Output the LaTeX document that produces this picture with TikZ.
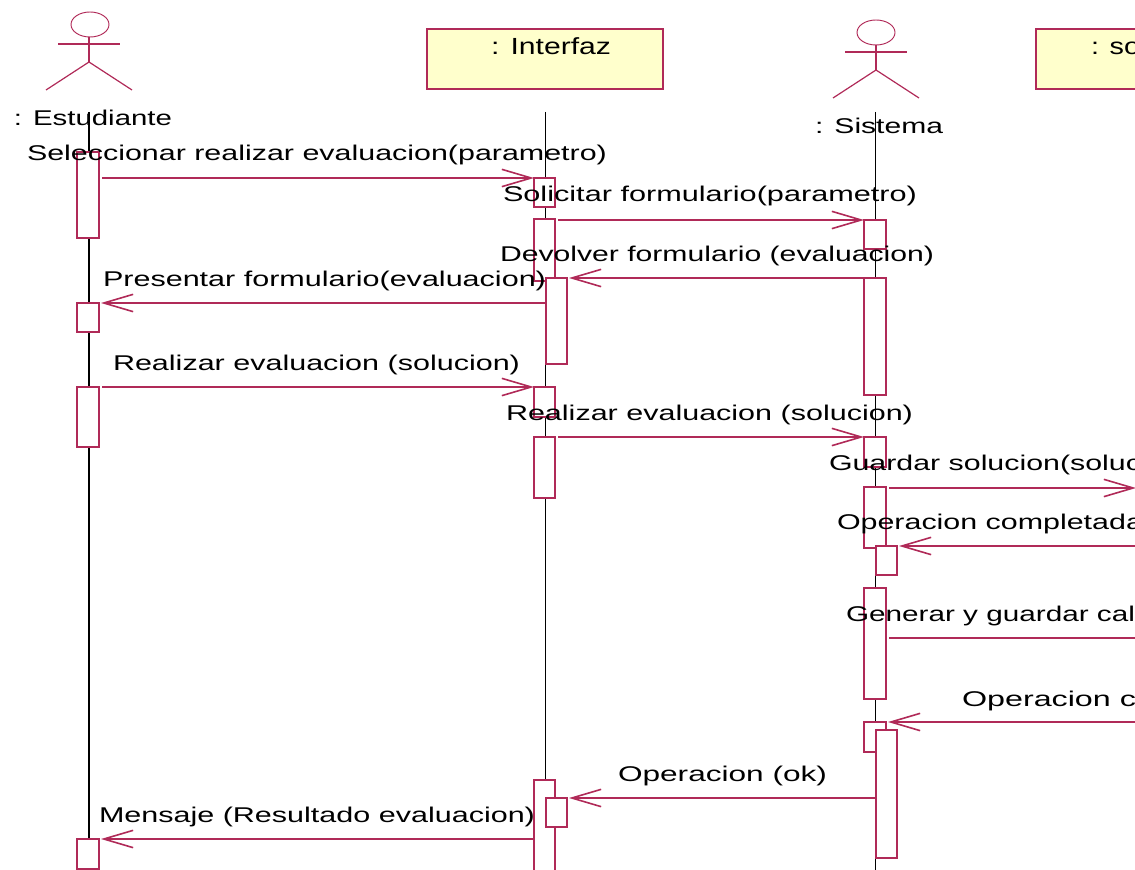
\documentclass[tikz,border=0pt]{standalone}
\usepackage{fontspec}
\setmainfont{Liberation Sans}
\usetikzlibrary{arrows.meta,shapes.geometric}
\definecolor{rose}{HTML}{B02A58}
\definecolor{note}{HTML}{FFFFCC}
\tikzset{
  x=0.75pt,y=-0.75pt,
  lifeline/.style={draw=black,line width=1pt},
  limb/.style={draw=rose,line width=0.9pt},
  head/.style={ellipse,draw=rose,line width=0.7pt,inner sep=0pt,outer sep=0pt},
  actbar/.style={rectangle,draw=rose,fill=white,line width=0.9pt,inner sep=0pt,outer sep=0pt,anchor=north west},
  objbox/.style={rectangle,draw=rose,fill=note,line width=0.9pt,inner sep=0pt,outer sep=0pt,anchor=north west},
  msg/.style={draw=rose,line width=0.85pt,-{Straight Barb[length=22pt,width=13pt,line width=1.2pt]}},
  plain/.style={draw=rose,line width=0.85pt},
  lab/.style={anchor=base west,inner sep=0pt,outer sep=0pt,font=\fontsize{16pt}{16pt}\selectfont,text=black},
  biglab/.style={lab,font=\fontsize{17.5pt}{17.5pt}\selectfont},
}
\newcommand{\actb}[5]{\node[actbar,minimum width={(#3-#2)*0.75pt},minimum height={(#5-#4)*0.75pt}] (#1) at (#2,#4) {};}
\newcommand{\fit}[2]{\setbox0=\hbox{#2}\pgfmathsetmacro{\sx}{#1*0.75/\the\wd0}\scalebox{\sx}[1]{\box0}}
\newcommand{\lbl}[5]{\node[lab] (#1) at (#2,#3) {\fit{#4}{#5}};}
\newcommand{\hlbl}[5]{\node[biglab] (#1) at (#2,#3) {\fit{#4}{#5}};}
\begin{document}
\begin{tikzpicture}
\useasboundingbox (0,0) rectangle (1135,870);
\clip (0,0) rectangle (1135,870);
% lifelines
\coordinate (lA) at (89,112); \coordinate (lAe) at (89,870);
\coordinate (lI) at (545.7,112);  \coordinate (lIe) at (545.7,870);
\coordinate (lS) at (875.7,112);\coordinate (lSe) at (875.7,870);
\draw[lifeline] (lA) -- (lAe);
\draw[lifeline] (lI) -- (lIe);
\draw[lifeline] (lS) -- (lSe);
% actor 1
\node[head,minimum width=28.5pt,minimum height=18.75pt] (h1) at (90,24.5) {};
\coordinate (hip1) at (89,62); \coordinate (al1) at (58,44); \coordinate (ar1) at (120,44);
\coordinate (ll1) at (46,90); \coordinate (lr1) at (132,90);
\draw[limb] (h1.south -| hip1) -- (hip1); \draw[limb] (al1) -- (ar1);
\draw[limb] (ll1) -- (hip1) -- (lr1);
% actor 3
\node[head,minimum width=28.5pt,minimum height=18.75pt] (h3) at (876,32.5) {};
\coordinate (hip3) at (876,70); \coordinate (al3) at (845,52); \coordinate (ar3) at (907,52);
\coordinate (ll3) at (833,98); \coordinate (lr3) at (919,98);
\draw[limb] (h3.south) -- (hip3); \draw[limb] (al3) -- (ar3);
\draw[limb] (ll3) -- (hip3) -- (lr3);
% object boxes
\node[objbox,minimum width=177pt,minimum height=45pt] (oI) at (427,29) {};
\node[objbox,minimum width=90pt,minimum height=45pt] (oS) at (1036,29) {};
% activation bars
\actb{A1}{77}{99}{152}{238}
\actb{A2}{77}{99}{303}{332}
\actb{A3}{77}{99}{387}{447}
\actb{A4}{77}{99}{839}{869}
\actb{I1}{534}{555}{178}{207}
\actb{I2}{534}{555}{219}{281}
\actb{I3}{546}{567}{278}{364}
\actb{I4}{534}{555}{387}{417}
\actb{I5}{534}{555}{437}{498}
\actb{I6}{534}{555}{780}{875}
\actb{I7}{546}{567}{798}{827}
\actb{S1}{864}{886}{220}{249}
\actb{S2}{864}{886}{278}{395}
\actb{S3}{864}{886}{437}{467}
\actb{S4}{864}{886}{487}{548}
\actb{S5}{876}{897}{546}{575}
\actb{S6}{864}{886}{588}{699}
\actb{S7}{864}{886}{722}{752}
\actb{S8}{876}{897}{730}{858}
% free ends at the picture edge
\coordinate (r7) at (1136,488);
\coordinate (r8) at (1136,546);
\coordinate (r9) at (1136,638);
\coordinate (r10) at (1136,722);
% messages
\draw[msg] ([xshift=2.25pt]A1.east |- I1.north west) -- (I1.north west);
\draw[msg] ([xshift=2.25pt]I2.north east |- S1.north west) -- (S1.north west);
\draw[msg] (S2.north west) -- ([xshift=1.5pt]I3.north east);
\draw[msg] (I3.west |- A2.north east) -- ([xshift=1.5pt]A2.north east);
\draw[msg] ([xshift=2.25pt]A3.north east) -- (I4.north west);
\draw[msg] ([xshift=2.25pt]I5.north east) -- (S3.north west);
\draw[msg] ([xshift=2.25pt]S4.east |- r7) -- (r7);
\draw[msg] (r8) -- ([xshift=1.5pt]S5.north east);
\draw[plain] ([xshift=2.25pt]S6.east |- r9) -- (r9);
\draw[msg] (r10) -- ([xshift=1.5pt]S7.north east);
\draw[msg] (S8.west |- I7.north east) -- ([xshift=1.5pt]I7.north east);
\draw[msg] (I6.west |- A4.north east) -- ([xshift=1.5pt]A4.north east);
% labels
\hlbl{tI}{491}{55}{120}{: Interfaz}
\hlbl{tS}{1091}{55}{49}{: so}
\lbl{t1}{14}{126}{158}{: Estudiante}
\lbl{t2}{815}{134}{128}{: Sistema}
\lbl{m1}{27}{160.5}{580}{Seleccionar realizar evaluacion(parametro)}
\lbl{m2}{503}{202}{414}{Solicitar formulario(parametro)}
\lbl{m3}{500}{261}{434}{Devolver formulario (evaluacion)}
\lbl{m4}{103}{286}{443}{Presentar formulario(evaluacion)}
\lbl{m5}{113}{370}{407}{Realizar evaluacion (solucion)}
\lbl{m6}{506}{420}{407}{Realizar evaluacion (solucion)}
\lbl{m7}{829}{470}{312}{Guardar solucion(soluc}
\lbl{m8}{837}{529}{306}{Operacion completada}
\lbl{m9}{846}{621}{289}{Generar y guardar cal}
\lbl{m10}{962}{706}{174}{Operacion c}
\lbl{m11}{618}{781}{209}{Operacion (ok)}
\lbl{m12}{99}{822}{436}{Mensaje (Resultado evaluacion)}
\end{tikzpicture}
\end{document}
